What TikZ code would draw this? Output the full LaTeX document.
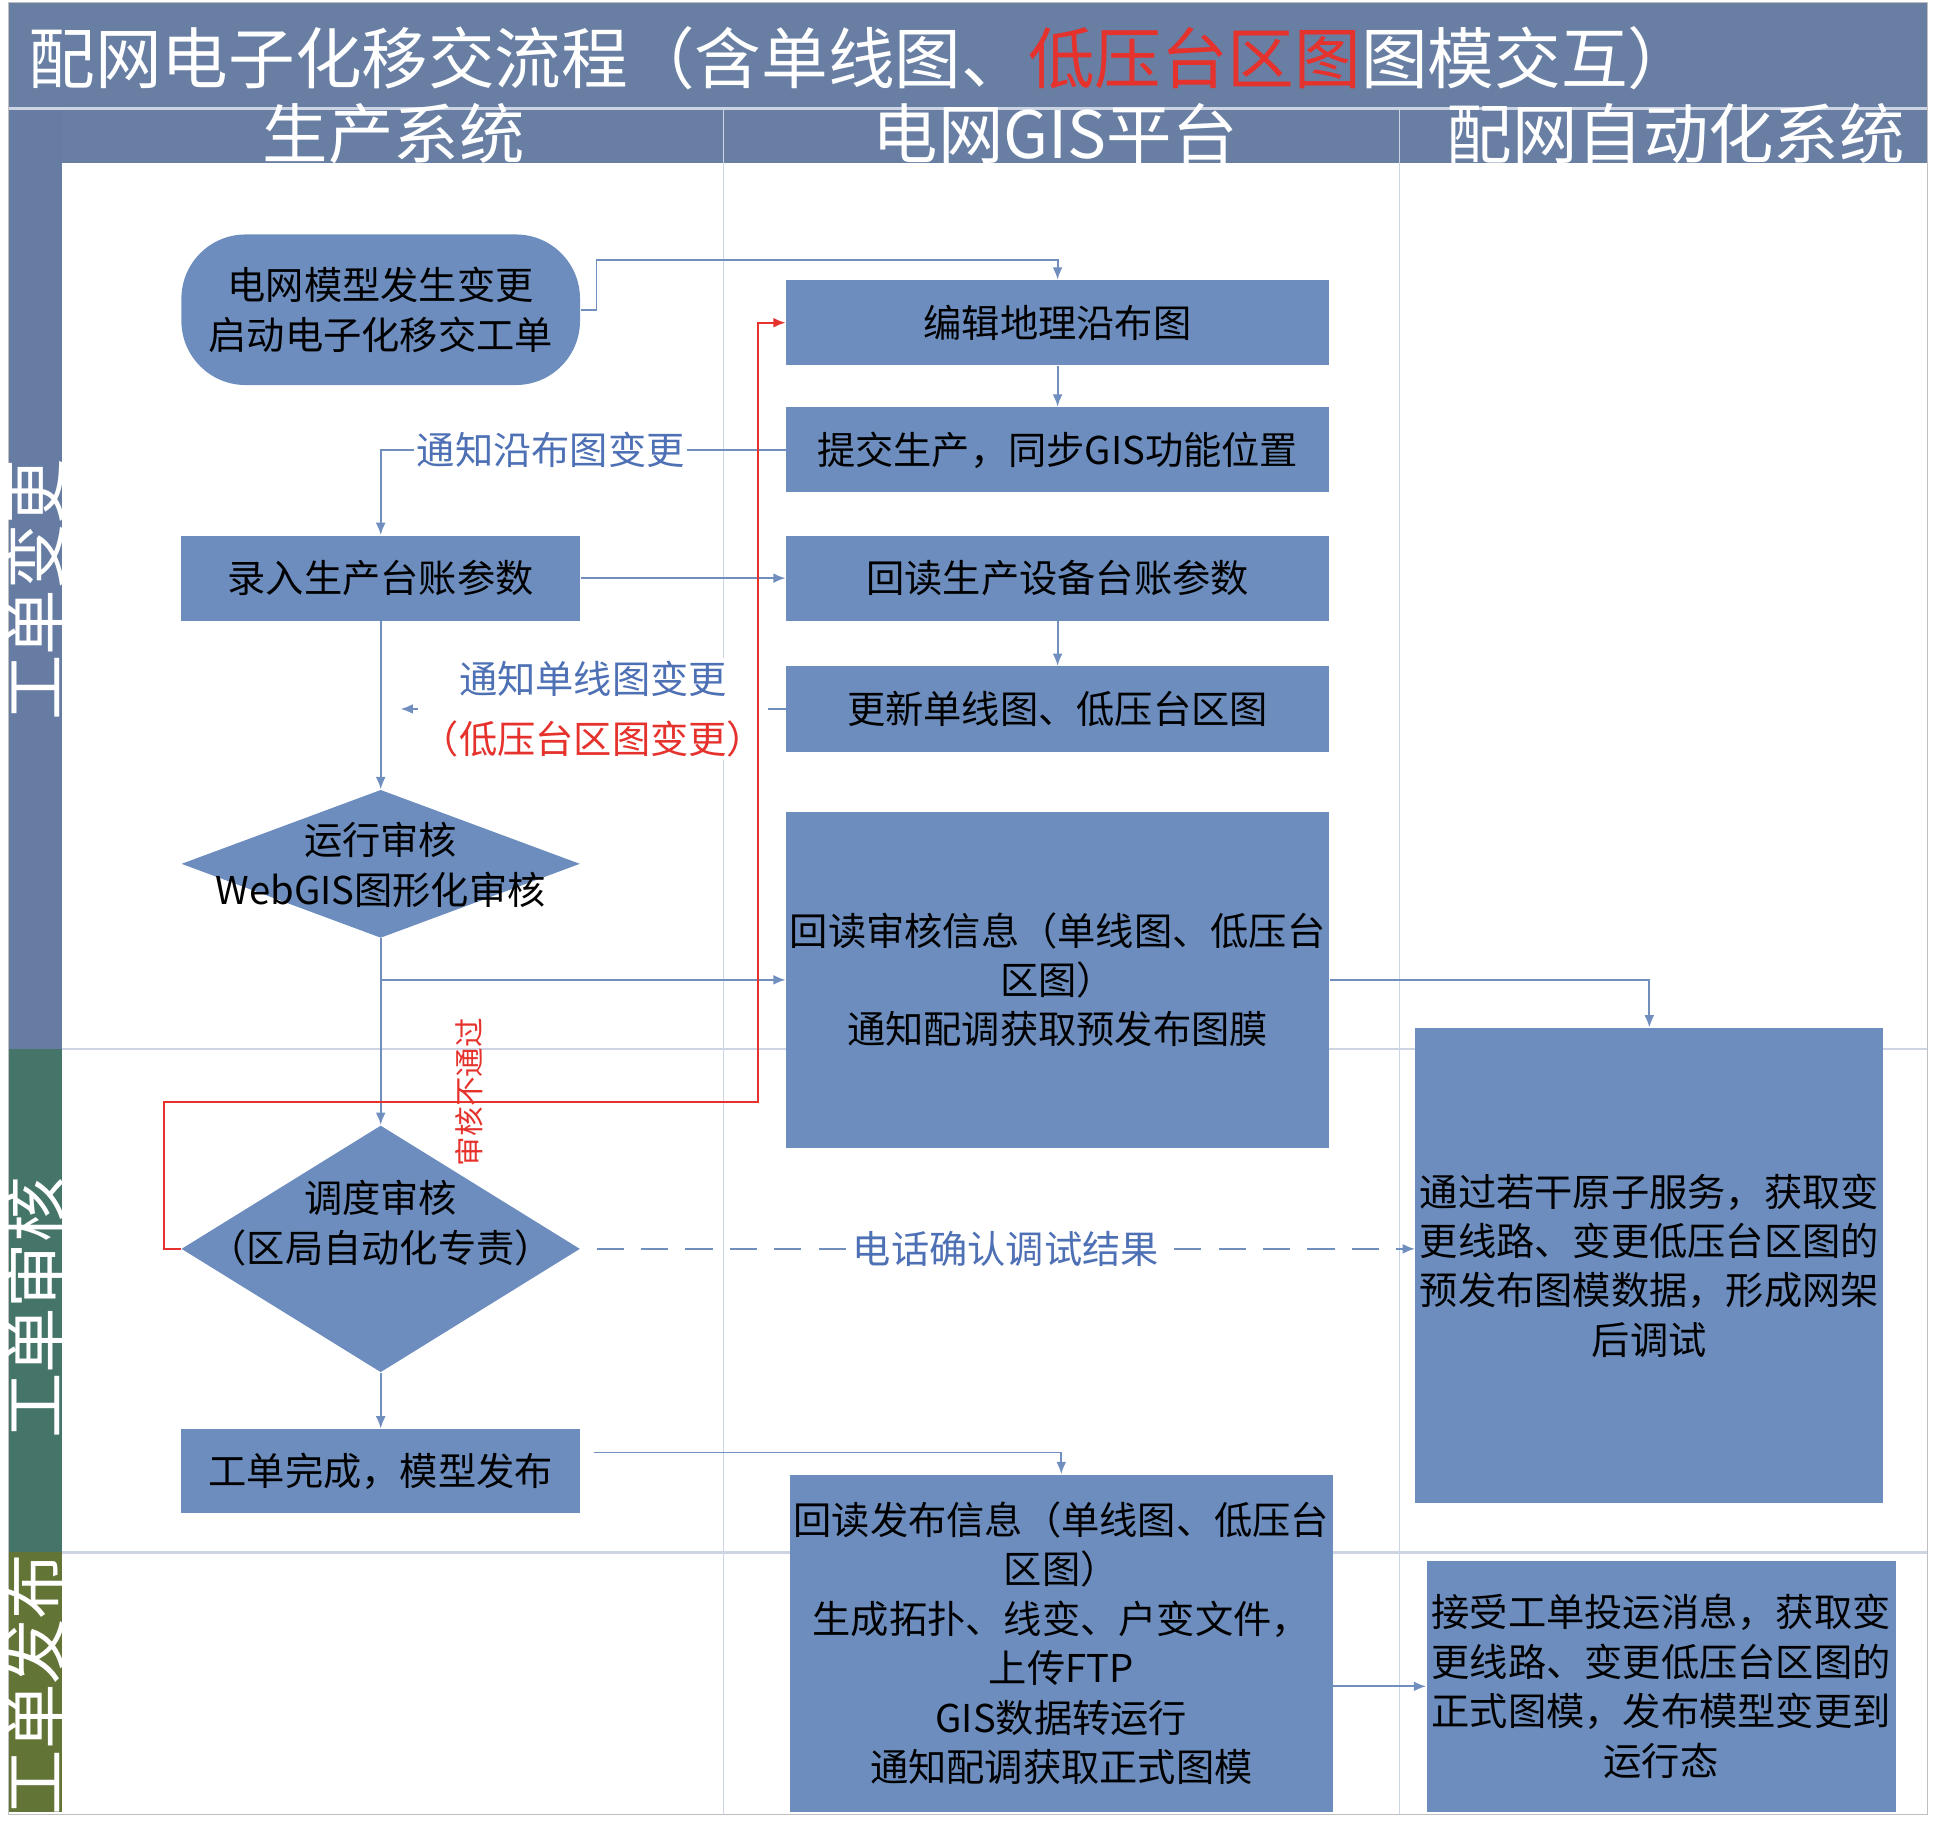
\documentclass[tikz,border=0pt]{standalone}
\usepackage{fontspec}
\setmainfont{Noto Sans CJK SC}
\usetikzlibrary{shapes.geometric,arrows.meta,calc}

\definecolor{bandblue}{RGB}{104,126,163}
\definecolor{lanechange}{RGB}{102,124,163}
\definecolor{lanereview}{RGB}{69,116,105}
\definecolor{lanepub}{RGB}{98,117,55}
\definecolor{boxblue}{RGB}{108,141,189}
\definecolor{linkblue}{RGB}{112,142,190}
\definecolor{labelblue}{RGB}{78,112,180}
\definecolor{failred}{RGB}{230,50,45}
\definecolor{gridline}{RGB}{205,213,228}

\newcommand{\boxfont}{\fontsize{15.5}{20}\selectfont}
\newcommand{\headfont}{\fontsize{26.5}{30}\selectfont}

\begin{document}
\begin{tikzpicture}[x=0.5pt,y=-0.5pt,
    flowbox/.style={rectangle,fill=boxblue,inner sep=0pt,minimum width=220pt,minimum height=34.5pt,align=center,font=\boxfont},
    startbox/.style={rectangle,rounded corners=26pt,fill=boxblue,inner sep=0pt,minimum width=161.5pt,minimum height=61pt,align=center,font=\boxfont},
    decision/.style={diamond,fill=boxblue,inner sep=0pt,minimum width=161.5pt},
    lanelabel/.style={rotate=90,text=white,font=\headfont},
    headtext/.style={text=white,font=\headfont},
    link/.style={draw=linkblue,line width=0.75pt,-{Latex[length=5pt,width=4pt]}},
    faillink/.style={draw=failred,line width=0.75pt,-{Latex[length=5pt,width=4pt]}},
    linktext/.style={fill=white,inner sep=1pt,text=labelblue,font=\boxfont,align=center}]
    \useasboundingbox (0,0) rectangle (1568,1482);

    % bands and lanes
    \fill[bandblue] (7,2) rectangle (1562,88);
    \fill[bandblue] (50,88) rectangle (1562,132);
    \fill[lanechange] (7,88) rectangle (50,850);
    \fill[lanereview] (7,850) rectangle (50,1258);
    \fill[lanepub] (7,1258) rectangle (50,1468);
    \draw[gridline,line width=1pt] (7,88) -- (1562,88);
    \draw[gridline] (586,88) -- (586,1470);
    \draw[gridline] (1134,88) -- (1134,1470);
    \draw[gridline,line width=1pt] (50,850) -- (1562,850);
    \draw[gridline,line width=1pt] (50,1258) -- (1562,1258);
    \draw[gray!50] (7,2) rectangle (1562,1470);

    \node[anchor=west,text=white,font=\fontsize{27}{30}\selectfont] (title) at (16,47) {配网电子化移交流程（含单线图、\textcolor{failred}{低压台区图}图模交互）};
    \node[headtext] (colprod) at (319,108) {生产系统};
    \node[headtext] (colgis) at (855,108) {电网GIS平台};
    \node[headtext] (coldas) at (1358,108) {配网自动化系统};
    \node[lanelabel] (lanea) at (28,478) {工单变更};
    \node[lanelabel] (laneb) at (28,1060) {工单审核};
    \node[lanelabel] (lanec) at (28,1365) {工单发布};

    % nodes
    \node[startbox] (start) at (308.5,251) {电网模型发生变更\\启动电子化移交工单};
    \node[flowbox] (edit) at (857,261.5) {编辑地理沿布图};
    \node[flowbox] (submit) at (857,364.5) {提交生产，同步GIS功能位置};
    \node[flowbox,minimum width=161.5pt] (input) at (308.5,468.5) {录入生产台账参数};
    \node[flowbox] (readback) at (857,468.5) {回读生产设备台账参数};
    \node[flowbox] (update) at (857,574.5) {更新单线图、低压台区图};
    \node[decision,minimum height=60pt] (review1) at (308.5,700) {};
    \node[font=\boxfont,align=center] (review1text) at (308.5,701) {运行审核\\WebGIS图形化审核};
    \node[flowbox,minimum height=136pt] (readreview) at (857,794) {回读审核信息（单线图、低压台\\区图）\\通知配调获取预发布图膜};
    \node[decision,minimum height=100pt] (review2) at (308.5,1012) {};
    \node[font=\boxfont,align=center] (review2text) at (308.5,991) {调度审核\\（区局自动化专责）};
    \node[flowbox,minimum width=189.5pt,minimum height=192.5pt] (autotest) at (1336.5,1025.5) {通过若干原子服务，获取变\\更线路、变更低压台区图的\\预发布图模数据，形成网架\\后调试};
    \node[flowbox,minimum width=161.5pt,minimum height=34pt] (done) at (308.5,1192) {工单完成，模型发布};
    \node[flowbox,minimum height=136.5pt] (publish) at (860,1331.5) {回读发布信息（单线图、低压台\\区图）\\生成拓扑、线变、户变文件，\\上传FTP\\GIS数据转运行\\通知配调获取正式图模};
    \node[flowbox,minimum width=190pt,minimum height=101.5pt] (formal) at (1346,1366.5) {接受工单投运消息，获取变\\更线路、变更低压台区图的\\正式图模，发布模型变更到\\运行态};

    % connectors
    \draw[link] (start.east) -- ++(13,0) |- ($(edit.north)+(0,-16)$) -- (edit.north);
    \draw[link] (edit) -- (submit);
    \draw[link] (submit.west) -| (input.north) node[linktext,pos=0.29] {通知沿布图变更};
    \draw[link] (input) -- (readback);
    \draw[link] (readback) -- (update);
    \draw[link] (update.west) -- ++(-312,0) node[linktext,pos=0.5] {通知单线图变更\\[4.5pt]\textcolor{failred}{（低压台区图变更）}};
    \draw[link] (input) -- (review1);
    \draw[link] (review1.south) |- (readreview.west);
    \draw[link] (review1) -- (review2);
    \draw[link] (readreview.east) -| (autotest.north);
    \draw[link,dash pattern=on 11pt off 7pt] ([xshift=6.5pt]review2.east) -- (review2.east -| autotest.west) node[linktext,pos=0.5] {电话确认调试结果};
    \draw[link] (review2) -- (done);
    \draw[link] ($(done.east)+(11,-15)$) -| (publish.north);
    \draw[link] (formal.west -| publish.east) -- (formal.west);
    \draw[faillink] (review2.west) -- ++(-14,0) |- (614,893) |- (edit.west);
    \node[rotate=90,text=failred,font=\fontsize{12}{14}\selectfont] (failnote) at (380,885) {审核不通过};
\end{tikzpicture}
\end{document}
